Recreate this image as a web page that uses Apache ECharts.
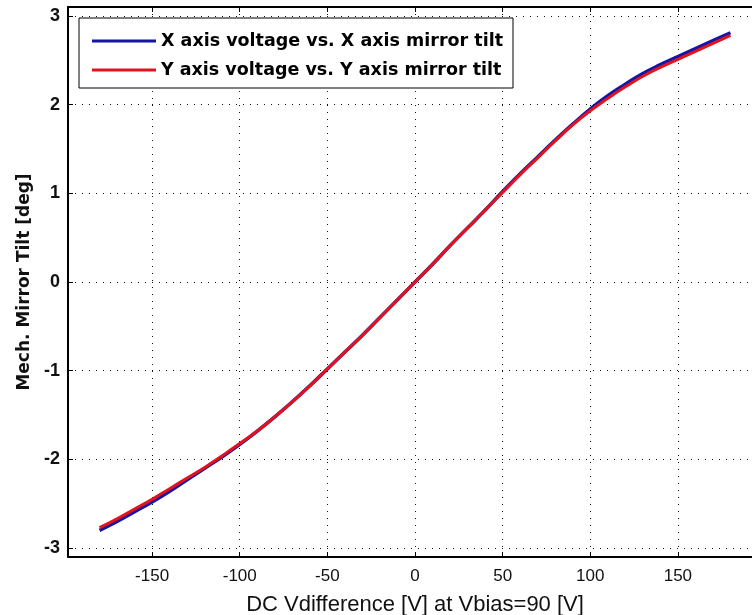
<!DOCTYPE html>
<html>
<head>
<meta charset="utf-8">
<script src="https://cdn.jsdelivr.net/npm/echarts@6/dist/echarts.min.js"></script>
<style>
html,body{margin:0;padding:0;background:#fff;}
#chart{width:752px;height:615px;}
</style>
</head>
<body>
<div id="chart"></div>
<script>
// Data
const voltage = [-180,-170,-160,-150,-140,-130,-120,-110,-100,-90,-80,-70,-60,-50,-40,-30,-20,-10,0,10,20,30,40,50,60,70,80,90,100,110,120,130,140,150,160,170,180];
const xTilt = [-2.80,-2.70,-2.59,-2.48,-2.36,-2.23,-2.10,-1.97,-1.83,-1.68,-1.52,-1.35,-1.17,-0.98,-0.79,-0.60,-0.40,-0.20,0,0.20,0.41,0.61,0.81,1.02,1.22,1.41,1.60,1.78,1.95,2.10,2.23,2.35,2.45,2.54,2.63,2.72,2.81];
const yTilt = [-2.77,-2.67,-2.56,-2.45,-2.33,-2.21,-2.09,-1.96,-1.82,-1.68,-1.52,-1.35,-1.17,-0.98,-0.79,-0.60,-0.40,-0.20,0,0.20,0.41,0.61,0.81,1.01,1.21,1.40,1.59,1.77,1.93,2.07,2.20,2.32,2.42,2.51,2.60,2.69,2.78];
const xTicks = [-150,-100,-50,0,50,100,150];
const yTicks = [-3,-2,-1,0,1,2,3];
const seriesNames = ['X axis voltage vs. X axis mirror tilt','Y axis voltage vs. Y axis mirror tilt'];
const xTitle = 'DC Vdifference [V] at Vbias=90 [V]';
const yTitle = 'Mech. Mirror Tilt [deg]';

const chart = echarts.init(document.getElementById('chart'), null, {renderer:'canvas'});
const font = '"Liberation Sans",Arial,sans-serif';
const boldFont = '"DejaVu Sans",sans-serif';
const gridLine = {show:true, lineStyle:{color:'#111', width:1, type:[1,6]}};
const axisLine = {show:true, onZero:false, lineStyle:{color:'#000', width:2}};

chart.setOption({
  animation:false,
  backgroundColor:'#fff',
  grid:{left:68, top:7, width:694, height:550, containLabel:false, outerBoundsMode:'none'},
  legend:{
    left:79, top:18, orient:'vertical',
    padding:[14,10,9,13],
    icon:'rect',
    itemWidth:64, itemHeight:3, itemGap:11,
    borderColor:'#000', borderWidth:1, backgroundColor:'#fff',
    textStyle:{fontFamily:boldFont, fontWeight:'bold', fontSize:17.5, color:'#000'},
    data:seriesNames
  },
  xAxis:[{
    type:'value', min:-198, max:198, position:'bottom',
    axisLine:axisLine,
    axisTick:{show:true, inside:true, length:5, customValues:xTicks, lineStyle:{color:'#000'}},
    axisLabel:{customValues:xTicks, margin:11, fontFamily:font, fontSize:17, color:'#111'},
    splitLine:gridLine,
    name:xTitle, nameLocation:'middle', nameGap:37,
    nameTextStyle:{fontFamily:font, fontSize:22, color:'#111'}
  },{
    type:'value', min:-198, max:198, position:'top',
    axisLine:axisLine,
    axisTick:{show:true, inside:true, length:5, customValues:xTicks, lineStyle:{color:'#000'}},
    axisLabel:{show:false}, splitLine:{show:false}
  }],
  yAxis:[{
    type:'value', min:-3.1, max:3.1, position:'left',
    axisLine:axisLine,
    axisTick:{show:true, inside:true, length:5, customValues:yTicks, lineStyle:{color:'#000'}},
    axisLabel:{customValues:yTicks, margin:8, fontFamily:font, fontWeight:'bold', fontSize:18, color:'#111'},
    splitLine:gridLine,
    name:yTitle, nameLocation:'middle', nameGap:35,
    nameTextStyle:{fontFamily:boldFont, fontWeight:'bold', fontSize:17, color:'#111'}
  },{
    type:'value', min:-3.1, max:3.1, position:'right',
    axisLine:axisLine, axisTick:{show:false}, axisLabel:{show:false}, splitLine:{show:false}
  }],
  series:[{
    name:seriesNames[0], type:'line', smooth:true, symbol:'none',
    data:voltage.map((v,i)=>[v,xTilt[i]]),
    lineStyle:{color:'#1515a8', width:3.5}, itemStyle:{color:'#1515a8'}
  },{
    name:seriesNames[1], type:'line', smooth:true, symbol:'none',
    data:voltage.map((v,i)=>[v,yTilt[i]]),
    lineStyle:{color:'#e3121c', width:3}, itemStyle:{color:'#e3121c'}
  }]
});
</script>
</body>
</html>
